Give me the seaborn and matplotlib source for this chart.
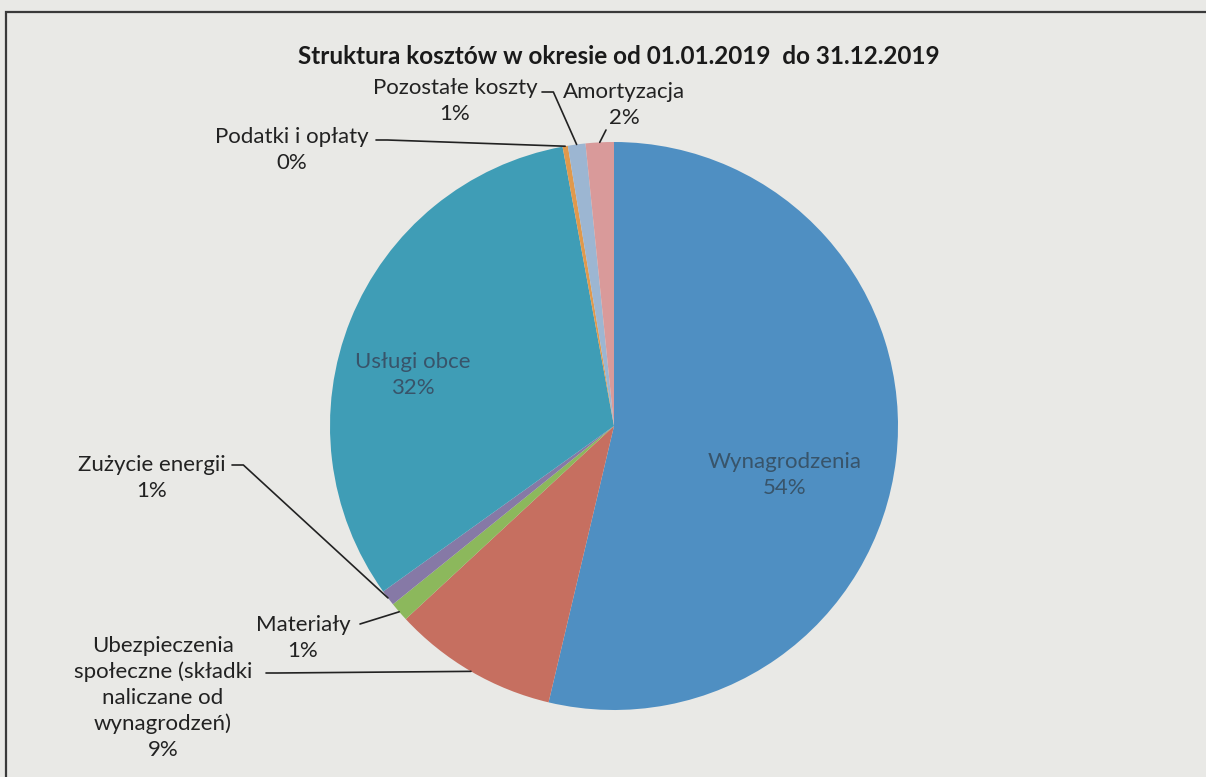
import numpy as np
import seaborn as sns
import matplotlib.pyplot as plt
from matplotlib.patches import Rectangle

## dane
kategorie = ['Wynagrodzenia', 'Ubezpieczenia\nspołeczne (składki\nnaliczane od\nwynagrodzeń)',
             'Materiały', 'Zużycie energii', 'Usługi obce', 'Podatki i opłaty',
             'Pozostałe koszty', 'Amortyzacja']
udzialy = [53.7, 9.4, 1.1, 0.9, 32.0, 0.3, 1.0, 1.6]
etykiety_proc = ['54%', '9%', '1%', '1%', '32%', '0%', '1%', '2%']
kolory = ['#4f8fc2', '#c66f60', '#8cb85c', '#8679a6', '#3f9db6', '#e0994c', '#9cb6d2', '#d99a9a']

sns.set_theme(style='white')
plt.rcParams['font.family'] = ['Lato', 'DejaVu Sans']

tlo = '#e9e9e6'
fig = plt.figure(figsize=(12.06, 7.77), dpi=100, facecolor=tlo)

## ramka jak na skanie
fig.patches.append(Rectangle((6/1206, -0.02), 1.05, 1 - 12/777 + 0.02, transform=fig.transFigure,
                             fill=False, edgecolor='#3a3a3a', linewidth=1.6))

# srodek kola (614,426) px, promien 284 px
ax = fig.add_axes([(614-284)/1206, (777-426-284)/777, 568/1206, 568/777])
ax.set_facecolor(tlo)
klinki, _ = ax.pie(udzialy, colors=kolory, startangle=90, counterclock=False, radius=1,
                   wedgeprops=dict(linewidth=0))
ax.set_xlim(-1, 1)
ax.set_ylim(-1, 1)
ax.set_aspect('equal')
ax.axis('off')

def px(x, y):
    return ((x - 614) / 284, (426 - y) / 284)

## etykiety w srodku
wew = {0: (785, 475), 4: (413, 375)}
for i, (x, y) in wew.items():
    ax.text(*px(x, y), kategorie[i] + '\n' + etykiety_proc[i], ha='center', va='center',
            fontsize=16, color='#38546a', linespacing=1.35, clip_on=False)

## etykiety zewnetrzne: pozycja tekstu, poczatek linii
zew = {
    1: ((163, 698), (266, 673)),
    2: ((303, 638), (360, 624)),
    3: ((152, 478), (232, 465)),
    5: ((292, 150), (376, 140)),
    6: ((455, 101), (542, 92)),
    7: ((624, 105), (606, 130)),
}
for i, ((tx, ty), (lx, ly)) in zew.items():
    ax.text(*px(tx, ty), kategorie[i] + '\n' + etykiety_proc[i], ha='center', va='center',
            fontsize=16, color='#222222', linespacing=1.35, clip_on=False)
    w = klinki[i]
    kat = np.deg2rad((w.theta1 + w.theta2) / 2)
    kx, ky = np.cos(kat), np.sin(kat)
    sx, sy = px(lx, ly)
    if i in (1, 5, 6, 3):
        ax.plot([sx, sx + 0.04, kx], [sy, sy, ky], color='#222222', lw=1.2, clip_on=False)
    else:
        ax.plot([sx, kx], [sy, ky], color='#222222', lw=1.2, clip_on=False)

fig.text(619/1206, 1 - 57/777, 'Struktura kosztów w okresie od 01.01.2019  do 31.12.2019',
         ha='center', va='center', fontsize=17.5, fontweight='bold', color='#1a1a1a')

fig.savefig('out.png', dpi=100, facecolor=tlo)
